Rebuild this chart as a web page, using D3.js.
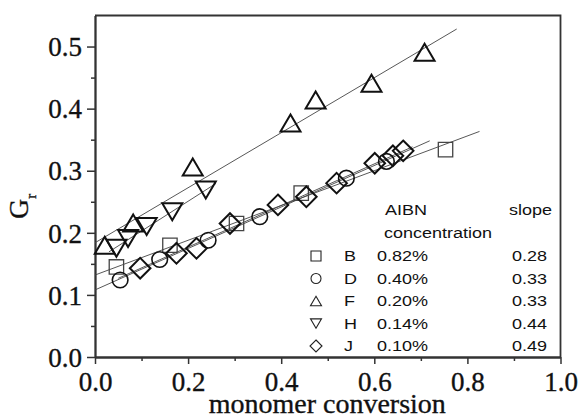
<!DOCTYPE html>
<html>
<head>
<meta charset="utf-8">
<script src="https://cdn.jsdelivr.net/npm/d3@7/dist/d3.min.js"></script>
<style>
  html, body { margin: 0; padding: 0; background: #fff; }
  svg { display: block; }
</style>
</head>
<body>
<svg id="chart" width="580" height="418"></svg>
<script>
// ---------------- data ----------------
const seriesNames = ["B", "D", "F", "H", "J"];
const seriesConc = ["0.82%", "0.40%", "0.20%", "0.14%", "0.10%"];
const seriesSlopeLabels = ["0.28", "0.33", "0.33", "0.44", "0.49"];
const seriesShapes = ["square", "circle", "triangleUp", "triangleDown", "diamond"];

const bX = [0.046, 0.161, 0.304, 0.443, 0.753];
const bY = [0.145, 0.180, 0.215, 0.264, 0.334];
const dX = [0.054, 0.139, 0.243, 0.354, 0.540, 0.626];
const dY = [0.124, 0.157, 0.188, 0.226, 0.288, 0.315];
const fX = [0.021, 0.082, 0.210, 0.420, 0.474, 0.594, 0.708];
const fY = [0.180, 0.216, 0.306, 0.377, 0.414, 0.441, 0.491];
const hX = [0.046, 0.071, 0.111, 0.166, 0.238];
const hY = [0.175, 0.191, 0.210, 0.234, 0.269];
const jX = [0.097, 0.175, 0.218, 0.290, 0.393, 0.454, 0.519, 0.601, 0.640, 0.662];
const jY = [0.143, 0.167, 0.175, 0.215, 0.245, 0.258, 0.280, 0.312, 0.324, 0.332];

// linear fits (intercept, slope, x start, x end)
const fitIntercept = [0.132, 0.108, 0.184, 0.155, 0.110];
const fitSlope     = [0.280, 0.334, 0.443, 0.479, 0.335];
const fitXStart    = [0.0, 0.0, 0.0, 0.03, 0.05];
const fitXEnd      = [0.826, 0.719, 0.777, 0.26, 0.682];

const xTicks = [0, 0.2, 0.4, 0.6, 0.8, 1.0];
const xMinorTicks = [0.1, 0.3, 0.5, 0.7, 0.9];
const yTicks = [0, 0.1, 0.2, 0.3, 0.4, 0.5];
const yMinorTicks = [0.05, 0.15, 0.25, 0.35, 0.45];

const xTitle = "monomer conversion";
const yTitleMain = "G";
const yTitleSub = "r";
const legendHead1 = "AIBN";
const legendHead2 = "concentration";
const legendHead3 = "slope";

// ---------------- layout ----------------
const SERIF = '"Liberation Serif", "Times New Roman", serif';
const SANS = '"Liberation Sans", Arial, sans-serif';
const svg = d3.select("#chart");
const L = 95, R = 560.5, T = 15.5, B = 357;
const x = d3.scaleLinear().domain([0, 1]).range([L, R]);
const y = d3.scaleLinear().domain([0, 0.55]).range([B, T]);

// frame (top & right)
svg.append("path")
  .attr("d", `M${L},${T}H${R}V${B}`)
  .attr("fill", "none").attr("stroke", "#333").attr("stroke-width", 1.8);

// axes
const xAxis = svg.append("g").attr("transform", `translate(0,${B})`)
  .call(d3.axisBottom(x).tickValues(xTicks).tickSize(7).tickSizeOuter(0).tickPadding(8)
        .tickFormat(d3.format(".1f")));
const xMinor = svg.append("g").attr("transform", `translate(0,${B})`)
  .call(d3.axisBottom(x).tickValues(xMinorTicks).tickSize(4).tickSizeOuter(0).tickFormat(""));
const yAxis = svg.append("g").attr("transform", `translate(${L},0)`)
  .call(d3.axisLeft(y).tickValues(yTicks).tickSize(8).tickSizeOuter(0).tickPadding(5)
        .tickFormat(d3.format(".1f")));
const yMinor = svg.append("g").attr("transform", `translate(${L},0)`)
  .call(d3.axisLeft(y).tickValues(yMinorTicks).tickSize(4).tickSizeOuter(0).tickFormat(""));

[xAxis, xMinor, yAxis, yMinor].forEach(g => {
  g.attr("font-family", null).attr("font-size", null);
  g.select(".domain").attr("stroke", "#333").attr("stroke-width", 1.8);
  g.selectAll(".tick line").attr("stroke", "#333").attr("stroke-width", 1.5);
  g.selectAll(".tick text")
    .style("font-family", SERIF)
    .style("font-size", "27px")
    .attr("fill", "#111")
    .attr("stroke", "#111").attr("stroke-width", 0.35);
});
yAxis.selectAll(".tick text").attr("dy", "0.34em");
xAxis.selectAll(".tick text").attr("dy", "0.72em");

// axis titles
svg.append("text")
  .attr("x", (L + R) / 2 - 0.5).attr("y", 413)
  .attr("text-anchor", "middle")
  .style("font-family", SERIF)
  .style("font-size", "28px").attr("fill", "#111")
  .attr("stroke", "#111").attr("stroke-width", 0.35)
  .text(xTitle);

const yt = svg.append("text")
  .attr("transform", "translate(28,219) rotate(-90)")
  .style("font-family", SERIF)
  .style("font-size", "28px").attr("fill", "#111")
  .attr("stroke", "#111").attr("stroke-width", 0.35);
yt.append("tspan").text(yTitleMain);
yt.append("tspan").style("font-size", "15px").attr("dy", 8).text(yTitleSub);

// ---------------- markers ----------------
function shapePath(shape, s) {
  switch (shape) {
    case "square":
      return `M${-s},${-s}H${s}V${s}H${-s}Z`;
    case "circle":
      return `M${s},0A${s},${s} 0 1,1 ${-s},0A${s},${s} 0 1,1 ${s},0Z`;
    case "triangleUp": {
      const h = s * 0.85;
      return `M0,${-h}L${s},${h}L${-s},${h}Z`;
    }
    case "triangleDown": {
      const h = s * 0.85;
      return `M0,${h}L${s},${-h}L${-s},${-h}Z`;
    }
    case "diamond":
      return `M0,${-s}L${s},0L0,${s}L${-s},0Z`;
  }
}

const seriesX = [bX, dX, fX, hX, jX];
const seriesY = [bY, dY, fY, hY, jY];
const markerHalf = [7.2, 7.8, 10, 10, 10.3];
const markerStroke = [1.3, 1.6, 2, 2, 2];
const markerColor = ["#444", "#111", "#111", "#111", "#111"];

// fit lines
const lineGen = d3.line().x(d => x(d[0])).y(d => y(d[1]));
seriesNames.forEach((n, i) => {
  const pts = [fitXStart[i], fitXEnd[i]].map(v => [v, fitIntercept[i] + fitSlope[i] * v]);
  svg.append("path").attr("d", lineGen(pts))
    .attr("fill", "none").attr("stroke", "#444").attr("stroke-width", 0.9);
});

[2, 3, 0, 1, 4].forEach(i => {
  const pts = seriesX[i].map((v, k) => [v, seriesY[i][k]]);
  svg.append("g").selectAll("path").data(pts).join("path")
    .attr("transform", d => `translate(${x(d[0])},${y(d[1])})`)
    .attr("d", shapePath(seriesShapes[i], markerHalf[i]))
    .attr("fill", "none")
    .attr("stroke", markerColor[i])
    .attr("stroke-width", markerStroke[i]);
});

// ---------------- legend ----------------
const lg = svg.append("g");
function ltext(xx, yy, t, anchor) {
  return lg.append("text")
    .attr("transform", `translate(${xx},${yy}) scale(1.2,1)`)
    .attr("text-anchor", anchor || "start")
    .style("font-family", SANS)
    .style("font-size", "15px").attr("fill", "#111").text(t);
}
ltext(385, 215, legendHead1);
ltext(384, 238, legendHead2);
ltext(509, 215, legendHead3);

const rowY = d3.scaleLinear().domain([0, 4]).range([261, 351]);
const legHalf = [5, 5, 5.5, 5.5, 6];
seriesNames.forEach((n, i) => {
  const yy = rowY(i);
  lg.append("path")
    .attr("transform", `translate(316,${yy - 5})`)
    .attr("d", shapePath(seriesShapes[i], legHalf[i]))
    .attr("fill", "none").attr("stroke", "#222").attr("stroke-width", 1.1);
  ltext(344, yy, n);
  ltext(377, yy, seriesConc[i]);
  ltext(547, yy, seriesSlopeLabels[i], "end");
});
</script>
</body>
</html>
